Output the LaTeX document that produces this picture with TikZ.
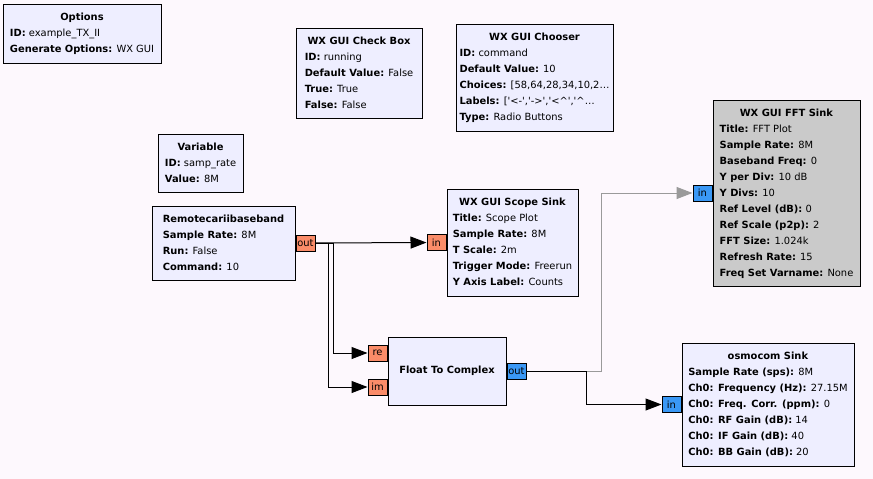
\documentclass[tikz,border=0pt]{standalone}
\usepackage{fontspec}
\setmainfont{DejaVu Sans}
\usetikzlibrary{positioning, arrows.meta}
\definecolor{canvas}{HTML}{FDF8FD}
\definecolor{blockfill}{HTML}{EEEEFF}
\definecolor{selfill}{HTML}{CACACA}
\definecolor{floatport}{HTML}{FA8C69}
\definecolor{cplxport}{HTML}{3A98F5}
\definecolor{wiregray}{HTML}{9A9A9A}
\newcommand{\kv}[2]{\textbf{#1:} #2}
\newcommand{\ttl}[1]{\multicolumn{1}{@{}c@{}}{\textbf{#1}}}
\newcommand{\sq}{\textquotesingle}

\begin{document}
\begin{tikzpicture}[x=1pt, y=-1pt,
    every node/.style={font=\fontsize{9.9}{16}\selectfont},
    block/.style={draw, fill=blockfill, line width=1pt, inner sep=0pt},
    port/.style={draw, line width=1pt, minimum width=19pt, minimum height=16pt, inner sep=0pt},
    fport/.style={port, fill=floatport},
    cport/.style={port, fill=cplxport},
    wire/.style={line width=1pt, -{Triangle[length=16pt, width=12pt]}}
]
\useasboundingbox[fill=canvas] (0,0) rectangle (873,479);

% variables and options
\node[block, minimum width=158pt, minimum height=59pt] (options) at (82,33.5) {\begin{tabular}{@{}l@{}}
    \ttl{Options}\\ \kv{ID}{example\_TX\_II}\\ \kv{Generate Options}{WX GUI}\end{tabular}};
\node[block, minimum width=126pt, minimum height=90pt] (checkbox) at (359,73) {\begin{tabular}{@{}l@{}}
    \ttl{WX GUI Check Box}\\ \kv{ID}{running}\\ \kv{Default Value}{False}\\ \kv{True}{True}\\ \kv{False}{False}\end{tabular}};
\node[block, minimum width=85pt, minimum height=58pt] (variable) at (200.5,163) {\begin{tabular}{@{}l@{}}
    \ttl{Variable}\\ \kv{ID}{samp\_rate}\\ \kv{Value}{8M}\end{tabular}};
\node[block, minimum width=157pt, minimum height=107pt] (chooser) at (534.5,77.5) {\begin{tabular}{@{}l@{}}
    \ttl{WX GUI Chooser}\\ \kv{ID}{command}\\ \kv{Default Value}{10}\\ \kv{Choices}{[58,64,28,34,10,2…}\\
    \kv{Labels}{[\sq<-\sq,\sq->\sq,\sq<\textasciicircum\sq,\sq\textasciicircum…}\\ \kv{Type}{Radio Buttons}\end{tabular}};

% flow blocks
\node[block, minimum width=143pt, minimum height=74pt] (remote) at (223.5,243) {\begin{tabular}{@{}l@{}}
    \ttl{Remotecariibaseband}\\ \kv{Sample Rate}{8M}\\ \kv{Run}{False}\\ \kv{Command}{10}\end{tabular}};
\node[block, minimum width=131pt, minimum height=107pt] (scope) at (512.5,242.5) {\begin{tabular}{@{}l@{}}
    \ttl{WX GUI Scope Sink}\\ \kv{Title}{Scope Plot}\\ \kv{Sample Rate}{8M}\\ \kv{T Scale}{2m}\\
    \kv{Trigger Mode}{Freerun}\\ \kv{Y Axis Label}{Counts}\end{tabular}};
\node[block, minimum width=118pt, minimum height=68pt] (f2c) at (447,371) {\textbf{Float To Complex}};
\node[block, fill=selfill, minimum width=147pt, minimum height=186pt] (fft) at (786.5,193) {\begin{tabular}{@{}l@{}}
    \ttl{WX GUI FFT Sink}\\ \kv{Title}{FFT Plot}\\ \kv{Sample Rate}{8M}\\ \kv{Baseband Freq}{0}\\
    \kv{Y per Div}{10 dB}\\ \kv{Y Divs}{10}\\ \kv{Ref Level (dB)}{0}\\ \kv{Ref Scale (p2p)}{2}\\
    \kv{FFT Size}{1.024k}\\ \kv{Refresh Rate}{15}\\ \kv{Freq Set Varname}{None}\end{tabular}};
\node[block, minimum width=172pt, minimum height=123pt] (osmo) at (768,404.5) {\begin{tabular}{@{}l@{}}
    \ttl{osmocom Sink}\\ \kv{Sample Rate (sps)}{8M}\\ \kv{Ch0: Frequency (Hz)}{27.15M}\\
    \kv{Ch0: Freq. Corr. (ppm)}{0}\\ \kv{Ch0: RF Gain (dB)}{14}\\ \kv{Ch0: IF Gain (dB)}{40}\\
    \kv{Ch0: BB Gain (dB)}{20}\end{tabular}};

% ports
\node[fport, right=0pt of remote] (remote-out) {out};
\node[fport, left=0pt of scope] (scope-in) {in};
\node[fport, anchor=east] (f2c-re) at ([yshift=18pt]f2c.west) {re};
\node[fport, anchor=east] (f2c-im) at ([yshift=-16pt]f2c.west) {im};
\node[cport, right=0pt of f2c] (f2c-out) {out};
\node[cport, left=0pt of fft] (fft-in) {in};
\node[cport, left=0pt of osmo] (osmo-in) {in};

% connections
\draw[wire] (remote-out) -- (scope-in);
\draw[wire] (remote-out.east) -- ++(18,0) |- (f2c-re);
\draw[wire] (remote-out.east) -- ++(13,0) |- (f2c-im);
\draw[wire, wiregray] (f2c-out.east) -- ++(75,0) |- (fft-in);
\draw[wire] (f2c-out.east) -- ++(60,0) |- (osmo-in);
\end{tikzpicture}
\end{document}
